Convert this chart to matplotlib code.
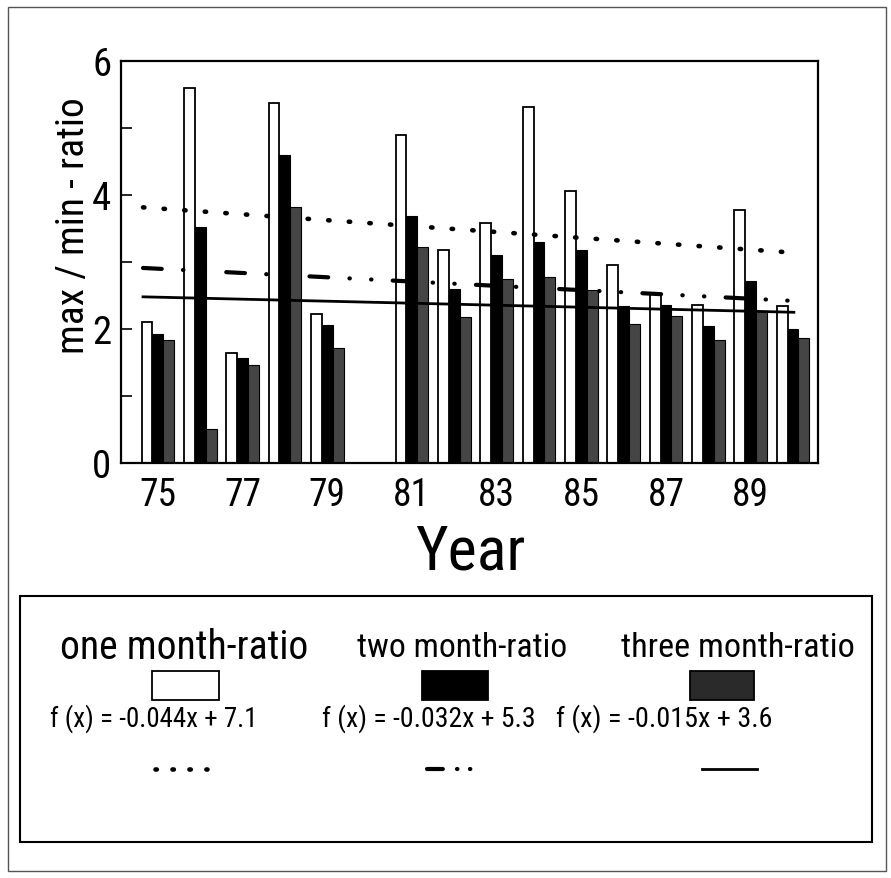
import matplotlib
matplotlib.use('Agg')
import matplotlib.pyplot as plt
import numpy as np
from matplotlib import font_manager as fm
from matplotlib.patches import Rectangle
from matplotlib.lines import Line2D

avail = {f.name for f in fm.fontManager.ttflist}
FONT = next((f for f in ['Liberation Sans Narrow', 'Arial Narrow', 'Roboto Condensed',
                         'Liberation Sans'] if f in avail), 'DejaVu Sans')
plt.rcParams['font.family'] = [FONT, 'DejaVu Sans']

# ---------------- data ----------------
years = [75, 76, 77, 78, 79, 80, 81, 82, 83, 84, 85, 86, 87, 88, 89, 90]
one_month = [2.10, 5.60, 1.64, 5.37, 2.23, np.nan, 4.89, 3.18, 3.58, 5.32, 4.06, 2.96, 2.52, 2.36, 3.78, 2.35]
two_month = [1.93, 3.52, 1.56, 4.60, 2.06, np.nan, 3.68, 2.60, 3.10, 3.30, 3.18, 2.35, 2.36, 2.05, 2.72, 2.00]
three_month = [1.84, 0.51, 1.47, 3.82, 1.72, np.nan, 3.22, 2.18, 2.75, 2.78, 2.58, 2.07, 2.20, 1.83, 2.27, 1.86]

series_names = ['one month-ratio', 'two month-ratio', 'three month-ratio']
slopes = [-0.044, -0.032, -0.015]
intercepts = [7.1, 5.3, 3.6]
trend_range = [74.65, 90.02]
xtick_years = [75, 77, 79, 81, 83, 85, 87, 89]
ytick_major = [0, 2, 4, 6]
ytick_minor = [1, 3, 5]

# ---------------- figure ----------------
W, H = 891, 879
fig = plt.figure(figsize=(W / 100, H / 100), dpi=100)
fig.patch.set_facecolor('white')


def fx(x):
    return x / W


def fy(y):
    return 1 - y / H


ax = fig.add_axes([fx(121), fy(464), fx(818) - fx(121), fy(62) - fy(464)])

yrs = np.array(years, dtype=float)
bw = 0.257
ax.bar(yrs - bw, one_month, bw, facecolor='white', edgecolor='black', linewidth=1.3, zorder=2)
ax.bar(yrs, two_month, bw, facecolor='black', edgecolor='black', linewidth=0.8, zorder=2)
ax.bar(yrs + bw, three_month, bw, facecolor='#454545', edgecolor='black', linewidth=0.8, zorder=2)

styles = [
    dict(lw=3.3, ls=(0, (0.3, 4.2)), dash_capstyle='round', color='black'),
    dict(lw=3.0, ls=(0, (4.5, 5.1, 0.1, 5.1, 0.1, 5.1)), dash_capstyle='round', color='black'),
    dict(lw=2.0, ls='-', color='black'),
]
legend_styles = [
    dict(lw=3.3, ls=(0, (0.3, 3.4)), dash_capstyle='round', color='black'),
    dict(lw=3.0, ls=(0, (3.8, 3.4, 0.1, 3.0, 0.1, 20)), dash_capstyle='round', color='black'),
    dict(lw=2.0, ls='-', color='black'),
]
tx = np.array(trend_range)
for m, b, st in zip(slopes, intercepts, styles):
    ax.plot(tx, m * tx + b, zorder=3, **st)

ax.set_xlim(74.13, 90.59)
ax.set_ylim(0, 6)
ax.set_xticks(xtick_years)
ax.set_xticklabels([str(y) for y in xtick_years])
ax.set_yticks(ytick_major)
ax.set_yticks(ytick_minor, minor=True)
ax.tick_params(axis='x', length=0, pad=9, labelsize=27)
ax.tick_params(axis='y', which='both', direction='in', length=8, width=1.2, pad=7, labelsize=28)
for s in ax.spines.values():
    s.set_linewidth(1.6)

fig.canvas.draw()
r = fig.canvas.get_renderer()


def fit(t, target_w):
    bb = t.get_window_extent(r)
    t.set_fontsize(t.get_fontsize() * target_w / bb.width)


yl = fig.text(fx(73), fy(226), 'max / min - ratio', rotation=90, ha='center', va='center', fontsize=30)
bb = yl.get_window_extent(r)
yl.set_fontsize(yl.get_fontsize() * 256 / bb.height)

t = fig.text(fx(470), fy(553), 'Year', ha='center', va='center', fontsize=38)
fit(t, 110)

# outer border and legend box
fig.add_artist(Rectangle((fx(8), fy(872)), fx(886) - fx(8), fy(8) - fy(872), transform=fig.transFigure,
                         fill=False, lw=1.0, edgecolor='#555555'))
fig.add_artist(Rectangle((fx(20), fy(843)), fx(872) - fx(20), fy(597) - fy(843), transform=fig.transFigure,
                         fill=False, lw=1.5, edgecolor='black'))

header_x = [184, 462, 738]
header_w = [248, 210, 233]
for name, cx, w in zip(series_names, header_x, header_w):
    t = fig.text(fx(cx), fy(648), name, ha='center', va='center', fontsize=27)
    fit(t, w)

sw_x = [(152, 219), (422, 488), (690, 754)]
sw_fc = ['white', 'black', '#2a2a2a']
for (x0, x1), fc in zip(sw_x, sw_fc):
    fig.add_artist(Rectangle((fx(x0), fy(701)), fx(x1) - fx(x0), fy(672) - fy(701),
                             transform=fig.transFigure, facecolor=fc, edgecolor='black', lw=1.3))

eq_x = [(50, 258), (322, 535), (556, 772)]
for m, b, (x0, x1) in zip(slopes, intercepts, eq_x):
    s = f"f (x) = {m:.3f}x + {b:.1f}"
    t = fig.text(fx((x0 + x1) / 2), fy(719), s, ha='center', va='center', fontsize=20)
    fit(t, x1 - x0)

samp_x = [(155, 207), (427, 473), (702, 757)]
for (x0, x1), st in zip(samp_x, legend_styles):
    fig.add_artist(Line2D([fx(x0), fx(x1)], [fy(770), fy(770)], transform=fig.transFigure, **st))

fig.savefig('out.png', dpi=100)
